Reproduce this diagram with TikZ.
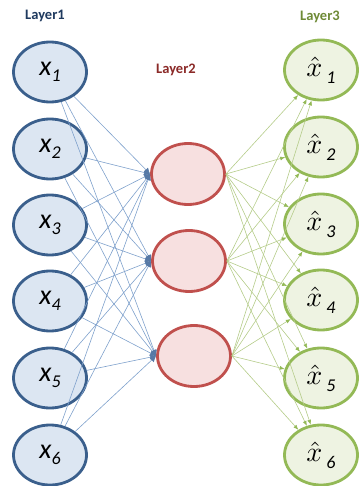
\documentclass[tikz,border=0pt]{standalone}
\usepackage{fontspec}
\setmainfont{Carlito}
\usetikzlibrary{arrows.meta,shapes.geometric}
\definecolor{bfill}{HTML}{DCE6F2}
\definecolor{bdraw}{HTML}{3A5F8C}
\definecolor{rfill}{HTML}{F7E0E0}
\definecolor{rdraw}{HTML}{C0504D}
\definecolor{gfill}{HTML}{EEF3E2}
\definecolor{gdraw}{HTML}{93B956}
\definecolor{bline}{HTML}{7FA1CC}
\definecolor{gline}{HTML}{B5CC8A}
\definecolor{t1}{HTML}{1F3A5F}
\definecolor{t2}{HTML}{8B2A28}
\definecolor{t3}{HTML}{6E8A36}
\begin{document}
\begin{tikzpicture}[x=1pt,y=-1pt,
  neuron/.style={ellipse, line width=2.8pt, minimum width=73pt, minimum height=60pt, inner sep=0pt},
  inp/.style={neuron, draw=bdraw, fill=bfill},
  hid/.style={neuron, draw=rdraw, fill=rfill, minimum height=61pt},
  outp/.style={neuron, draw=gdraw, fill=gfill},
  bconn/.style={draw=bline, line width=0.6pt, -{Latex[length=6pt,width=6pt,color=bdraw!60!bline]}},
  gconn/.style={draw=gline, line width=0.6pt, -{Latex[length=5pt,width=4pt,color=gdraw]}},
  layerlab/.style={font=\fontsize{14.5}{16}\selectfont\bfseries}
]
\useasboundingbox (0,0) rectangle (361,486);
\foreach \i/\y in {1/72,2/149,3/225,4/301,5/378,6/455}{
  \node[inp] (x\i) at (50,\y) {\fontsize{28}{30}\selectfont\itshape x\raisebox{-6pt}{\fontsize{18}{20}\selectfont \i}};
}
\foreach \i/\y in {1/70,2/147,3/224,4/300,5/378,6/455}{
  \node[outp] (o\i) at (321,\y) {\scalebox{2.8}{$\hat{x}$}\hspace{4pt}\raisebox{-7pt}{\fontsize{18}{20}\selectfont\itshape \i}};
}
\node[hid] (h1) at (188,174) {};
\node[hid] (h2) at (189,261) {};
\node[hid] (h3) at (194,356) {};
\foreach \i in {1,...,6}{
  \foreach \j in {1,2,3}{
    \draw[bconn] (x\i) -- (h\j.west);
    \draw[gconn] (h\j.east) -- (o\i);
  }
}
\node[layerlab, text=t1] (l1) at (45,16) {Layer1};
\node[layerlab, text=t2] (l2) at (176,70) {Layer2};
\node[layerlab, text=t3] (l3) at (320,17) {Layer3};
\end{tikzpicture}
\end{document}
